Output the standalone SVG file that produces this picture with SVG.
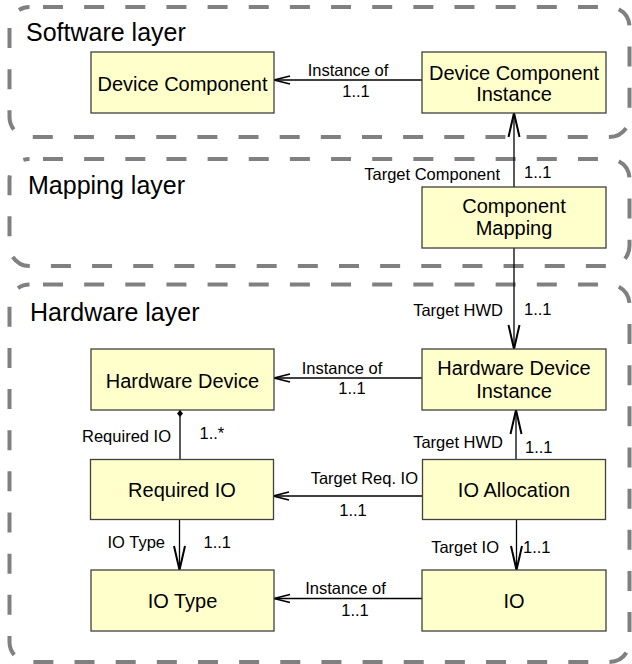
<svg xmlns="http://www.w3.org/2000/svg" width="632" height="664" viewBox="0 0 632 664">
<style>
.layer{fill:none;stroke:#808080;stroke-width:4;stroke-dasharray:20 21.15;stroke-dashoffset:27.65}
.title{font-family:"Liberation Sans",Arial,sans-serif;font-size:25px;fill:#000}
.box{fill:#ffffcc;stroke:#404040;stroke-width:1.3}
.lbl{font-family:"Liberation Sans",Arial,sans-serif;font-size:20px;fill:#000;text-anchor:middle}
.edge{fill:none;stroke:#000;stroke-width:1.3}
.el{font-family:"Liberation Sans",Arial,sans-serif;font-size:16.5px;fill:#000}
.m{text-anchor:middle}
.e{text-anchor:end}
</style>
<defs>
<marker id="ah" markerUnits="userSpaceOnUse" markerWidth="20" markerHeight="12" viewBox="-18 -6 20 12" refX="0" refY="0" orient="auto" overflow="visible">
<path d="M -16 -4 L 0 0 L -16 4" fill="none" stroke="#000" stroke-width="1.8"/>
</marker>
<marker id="av" markerUnits="userSpaceOnUse" markerWidth="28" markerHeight="14" viewBox="-26 -7 28 14" refX="0" refY="0" orient="auto" overflow="visible">
<path d="M -24 -5.5 L 0 0 L -24 5.5" fill="none" stroke="#000" stroke-width="2"/>
</marker>
<marker id="dm" markerUnits="userSpaceOnUse" markerWidth="10" markerHeight="10" viewBox="-8 -4 10 8" refX="0" refY="0" orient="auto" overflow="visible">
<path d="M 0 0 L -3.5 -3 L -7 0 L -3.5 3 Z" fill="#000"/>
</marker>
</defs>

<g id="software-layer">
<rect class="layer" x="9.5" y="7" width="620" height="130" rx="20"/>
<text class="title" x="26" y="40.5">Software layer</text>
</g>
<g id="mapping-layer">
<rect class="layer" x="9.5" y="159" width="620" height="107" rx="20"/>
<text class="title" x="28" y="194">Mapping layer</text>
</g>
<g id="hardware-layer">
<rect class="layer" x="9.5" y="284.5" width="620" height="377.5" rx="20"/>
<text class="title" x="30" y="320.5">Hardware layer</text>
</g>

<g id="connectors">
<line class="edge" x1="422" y1="80" x2="274" y2="80" marker-end="url(#ah)"/>
<text class="el m" x="348" y="76">Instance of</text>
<text class="el m" x="356" y="96.5">1..1</text>

<line class="edge" x1="514" y1="187" x2="514" y2="113" marker-end="url(#av)"/>
<text class="el e" x="500" y="180">Target Component</text>
<text class="el" x="524" y="178">1..1</text>

<line class="edge" x1="514" y1="248" x2="514" y2="349" marker-end="url(#av)"/>
<text class="el e" x="503" y="316">Target HWD</text>
<text class="el" x="524" y="315">1..1</text>

<line class="edge" x1="422" y1="378" x2="274" y2="378" marker-end="url(#ah)"/>
<text class="el m" x="342" y="374">Instance of</text>
<text class="el m" x="352" y="394">1..1</text>

<line class="edge" x1="180" y1="459" x2="180" y2="410" marker-end="url(#dm)"/>
<text class="el e" x="171" y="441.5">Required IO</text>
<text class="el" x="199.5" y="439">1..*</text>

<line class="edge" x1="516" y1="459" x2="516" y2="410" marker-end="url(#av)"/>
<text class="el e" x="503" y="447.5">Target HWD</text>
<text class="el" x="525" y="453">1..1</text>

<line class="edge" x1="422" y1="496" x2="273" y2="496" marker-end="url(#ah)"/>
<text class="el e" x="418" y="484">Target Req. IO</text>
<text class="el m" x="353" y="515.5">1..1</text>

<line class="edge" x1="179.5" y1="520" x2="179.5" y2="570" marker-end="url(#av)"/>
<text class="el e" x="165" y="548">IO Type</text>
<text class="el" x="203.5" y="548">1..1</text>

<line class="edge" x1="516.5" y1="520" x2="516.5" y2="570" marker-end="url(#av)"/>
<text class="el e" x="499" y="552.5">Target IO</text>
<text class="el" x="523" y="552.5">1..1</text>

<line class="edge" x1="422" y1="598.5" x2="274" y2="598.5" marker-end="url(#ah)"/>
<text class="el m" x="345.5" y="594">Instance of</text>
<text class="el m" x="355" y="616">1..1</text>
</g>

<g id="device-component">
<rect class="box" x="91" y="52" width="183" height="61"/>
<text class="lbl" x="182.5" y="90.5">Device Component</text>
</g>
<g id="device-component-instance">
<rect class="box" x="422" y="52" width="184" height="61"/>
<text class="lbl" x="514" y="79.5">Device Component</text>
<text class="lbl" x="514" y="101">Instance</text>
</g>
<g id="component-mapping">
<rect class="box" x="422" y="187" width="184" height="61"/>
<text class="lbl" x="514" y="213">Component</text>
<text class="lbl" x="514" y="235">Mapping</text>
</g>
<g id="hardware-device">
<rect class="box" x="91" y="349" width="183" height="61"/>
<text class="lbl" x="182.5" y="387.5">Hardware Device</text>
</g>
<g id="hardware-device-instance">
<rect class="box" x="422" y="349" width="184" height="61"/>
<text class="lbl" x="514" y="375">Hardware Device</text>
<text class="lbl" x="514" y="397.5">Instance</text>
</g>
<g id="required-io">
<rect class="box" x="90.5" y="459.5" width="183" height="60"/>
<text class="lbl" x="182" y="497">Required IO</text>
</g>
<g id="io-allocation">
<rect class="box" x="422.5" y="459.5" width="183" height="60"/>
<text class="lbl" x="514" y="497">IO Allocation</text>
</g>
<g id="io-type">
<rect class="box" x="91" y="570" width="183" height="61"/>
<text class="lbl" x="182.5" y="608">IO Type</text>
</g>
<g id="io">
<rect class="box" x="422" y="570" width="184" height="61"/>
<text class="lbl" x="514" y="608">IO</text>
</g>
</svg>
